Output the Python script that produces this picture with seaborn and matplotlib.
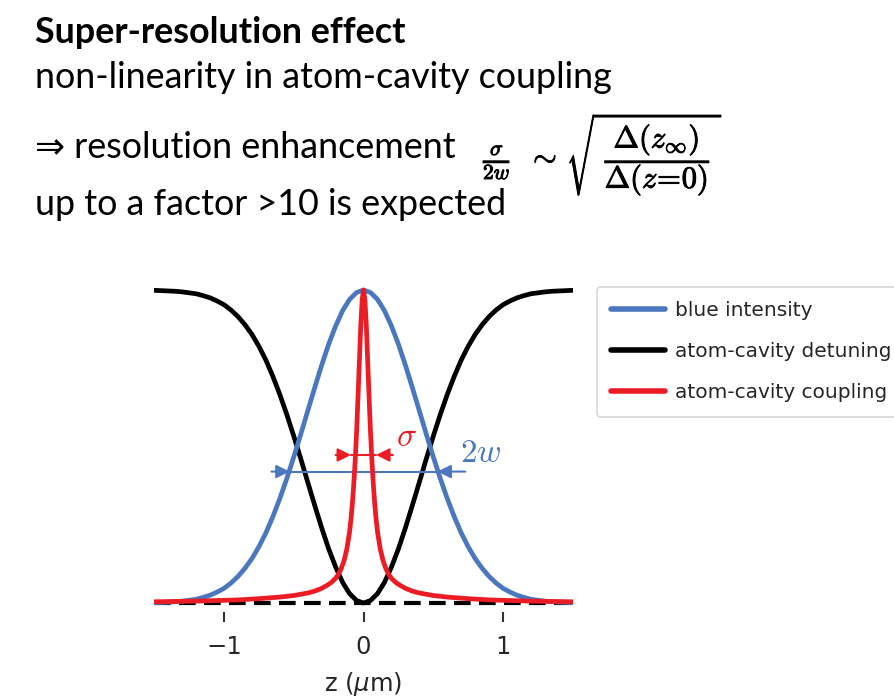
import matplotlib
matplotlib.use("Agg")
import matplotlib.pyplot as plt
import matplotlib.patheffects as pe
import seaborn as sns

# ---------------- data ----------------
z_main = [-1.5, -1.45, -1.4, -1.35, -1.3, -1.25, -1.2, -1.15, -1.1, -1.05, -1.0,
          -0.95, -0.9, -0.85, -0.8, -0.75, -0.7, -0.65, -0.6, -0.55, -0.5,
          -0.45, -0.4, -0.35, -0.3, -0.25, -0.2, -0.15, -0.1, -0.05, 0.0,
          0.05, 0.1, 0.15, 0.2, 0.25, 0.3, 0.35, 0.4, 0.45, 0.5,
          0.55, 0.6, 0.65, 0.7, 0.75, 0.8, 0.85, 0.9, 0.95, 1.0,
          1.05, 1.1, 1.15, 1.2, 1.25, 1.3, 1.35, 1.4, 1.45, 1.5]
blue_intensity = [0.001, 0.002, 0.003, 0.004, 0.006, 0.009, 0.012, 0.018, 0.025, 0.035, 0.047,
                  0.064, 0.085, 0.111, 0.142, 0.180, 0.224, 0.276, 0.334, 0.398, 0.467,
                  0.539, 0.614, 0.688, 0.760, 0.827, 0.885, 0.934, 0.970, 0.992, 1.000,
                  0.992, 0.970, 0.934, 0.885, 0.827, 0.760, 0.688, 0.614, 0.539, 0.467,
                  0.398, 0.334, 0.276, 0.224, 0.180, 0.142, 0.111, 0.085, 0.064, 0.047,
                  0.035, 0.025, 0.018, 0.012, 0.009, 0.006, 0.004, 0.003, 0.002, 0.001]
detuning = [0.999, 0.998, 0.997, 0.996, 0.994, 0.991, 0.988, 0.982, 0.975, 0.965, 0.953,
            0.936, 0.915, 0.889, 0.858, 0.820, 0.776, 0.724, 0.666, 0.602, 0.533,
            0.461, 0.386, 0.312, 0.240, 0.173, 0.115, 0.066, 0.030, 0.008, 0.000,
            0.008, 0.030, 0.066, 0.115, 0.173, 0.240, 0.312, 0.386, 0.461, 0.533,
            0.602, 0.666, 0.724, 0.776, 0.820, 0.858, 0.889, 0.915, 0.936, 0.953,
            0.965, 0.975, 0.982, 0.988, 0.991, 0.994, 0.996, 0.997, 0.998, 0.999]
z_red = [-1.5, -1.35, -1.2, -1.05, -0.9, -0.75, -0.6, -0.5, -0.4, -0.35, -0.3, -0.26, -0.23,
         -0.2, -0.18, -0.16, -0.14, -0.12, -0.1, -0.09, -0.08, -0.07, -0.06, -0.05, -0.04,
         -0.03, -0.02, -0.01, 0.0, 0.01, 0.02, 0.03, 0.04, 0.05, 0.06, 0.07, 0.08, 0.09,
         0.1, 0.12, 0.14, 0.16, 0.18, 0.2, 0.23, 0.26, 0.3, 0.35, 0.4, 0.5, 0.6, 0.75,
         0.9, 1.05, 1.2, 1.35, 1.5]
coupling = [0.004, 0.005, 0.006, 0.008, 0.010, 0.014, 0.019, 0.024, 0.032, 0.038, 0.047, 0.057, 0.066,
            0.079, 0.092, 0.110, 0.135, 0.172, 0.228, 0.268, 0.318, 0.380, 0.455, 0.545, 0.655,
            0.770, 0.885, 0.968, 1.000, 0.968, 0.885, 0.770, 0.655, 0.545, 0.455, 0.380, 0.318, 0.268,
            0.228, 0.172, 0.135, 0.110, 0.092, 0.079, 0.066, 0.057, 0.047, 0.038, 0.032, 0.024, 0.019, 0.014,
            0.010, 0.008, 0.006, 0.005, 0.004]
zero_z = [-1.5, 1.5]
zero_v = [0.0, 0.0]

x_ticks = [-1, 0, 1]
legend_labels = ["blue intensity", "atom-cavity detuning", "atom-cavity coupling"]

# annotation values
w_half = 0.53        # blue crossing (2w)
w_level = 0.42
sig_half = 0.09      # red crossing (sigma)
sig_level = 0.473

BLUE = "#4a77be"
RED = "#ec1c24"
BLACK = "#000000"

sns.set_style("white")
plt.rcParams["font.family"] = ["DejaVu Sans"]

fig = plt.figure(figsize=(8.94, 6.96), dpi=100)
ax = fig.add_axes([0.1726, 0.1201, 0.4681, 0.4767])

lw = 3.4
sns.lineplot(x=zero_z, y=zero_v, ax=ax, color=BLACK, lw=3.0, linestyle=(0, (4, 2)), zorder=1)
sns.lineplot(x=z_main, y=detuning, ax=ax, color=BLACK, lw=lw, label=legend_labels[1], zorder=2)
sns.lineplot(x=z_main, y=blue_intensity, ax=ax, color=BLUE, lw=lw, label=legend_labels[0], zorder=3)
sns.lineplot(x=z_red, y=coupling, ax=ax, color=RED, lw=lw, label=legend_labels[2], zorder=4)

# 2w arrows
ap_b = dict(arrowstyle="-|>", color=BLUE, lw=1.5, mutation_scale=20, shrinkA=0, shrinkB=0)
ax.annotate("", xy=(-w_half, w_level), xytext=(-0.66, w_level), arrowprops=ap_b, zorder=5)
ax.annotate("", xy=(w_half, w_level), xytext=(0.73, w_level), arrowprops=ap_b, zorder=5)
ax.plot([-w_half, w_half], [w_level, w_level], color=BLUE, lw=1.5, zorder=3.5)
ax.text(0.69, 0.45, r"$2w$", color=BLUE, fontsize=24, math_fontfamily="cm", va="baseline", ha="left")

# sigma arrows
ap_r = dict(arrowstyle="-|>", color=RED, lw=1.5, mutation_scale=20, shrinkA=0, shrinkB=0)
ax.annotate("", xy=(-sig_half, sig_level), xytext=(-0.2, sig_level), arrowprops=ap_r, zorder=5)
ax.annotate("", xy=(sig_half, sig_level), xytext=(0.21, sig_level), arrowprops=ap_r, zorder=5)
ax.plot([-sig_half, sig_half], [sig_level, sig_level], color=RED, lw=1.5, zorder=5)
ax.text(0.235, 0.50, r"$\sigma$", color=RED, fontsize=24, math_fontfamily="cm", va="baseline", ha="left")

ax.set_xlim(-1.5, 1.5)
ax.set_ylim(-0.03, 1.03)
ax.set_xticks(x_ticks)
ax.set_yticks([])
ax.tick_params(axis="x", length=7, width=1.5, color="#333333", labelsize=17.5, pad=9, bottom=True)
ax.set_xlabel(r"z ($\mu$m)", fontsize=17.5, labelpad=8)
ax.set_ylabel("")
sns.despine(ax=ax, left=True, bottom=True, top=True, right=True)

handles, labels = ax.get_legend_handles_labels()
order = [labels.index(l) for l in legend_labels]
leg = ax.legend([handles[i] for i in order], [labels[i] for i in order],
                loc="upper left", bbox_to_anchor=(0.6678, 0.5876), bbox_transform=fig.transFigure,
                borderaxespad=0, fontsize=14.5, handlelength=2.7, handletextpad=0.45,
                labelspacing=1.1, borderpad=0.7, frameon=True, fancybox=True)
leg.get_frame().set_edgecolor("#cccccc")
leg.get_frame().set_linewidth(1.2)
for h in leg.get_lines():
    h.set_linewidth(4)

# slide text
fam = ["Lato", "DejaVu Sans"]
fs = 25.8
fig.text(35 / 894, 1 - 43 / 696, "Super-resolution effect", fontsize=fs, fontweight="bold",
         family=fam, va="baseline", ha="left", color="black")
fig.text(35 / 894, 1 - 88 / 696, "non-linearity in atom-cavity coupling", fontsize=fs,
         family=fam, va="baseline", ha="left", color="black")
fig.text(35 / 894, 1 - 158 / 696, "\u21d2 resolution enhancement", fontsize=fs,
         family=fam, va="baseline", ha="left", color="black")
fig.text(35 / 894, 1 - 215 / 696, "up to a factor >10 is expected", fontsize=fs,
         family=fam, va="baseline", ha="left", color="black")
fig.text(483 / 894, 1 - 156 / 696,
         r"$\frac{\sigma}{2w}\;\;\sim\,\sqrt{\;\dfrac{\Delta(z_\infty)}{\Delta(z\!=\!0)}\,}$",
         fontsize=22, math_fontfamily="cm", va="center", ha="left", color="black",
         path_effects=[pe.withStroke(linewidth=0.7, foreground="black")])

fig.savefig("out.png", dpi=100)
